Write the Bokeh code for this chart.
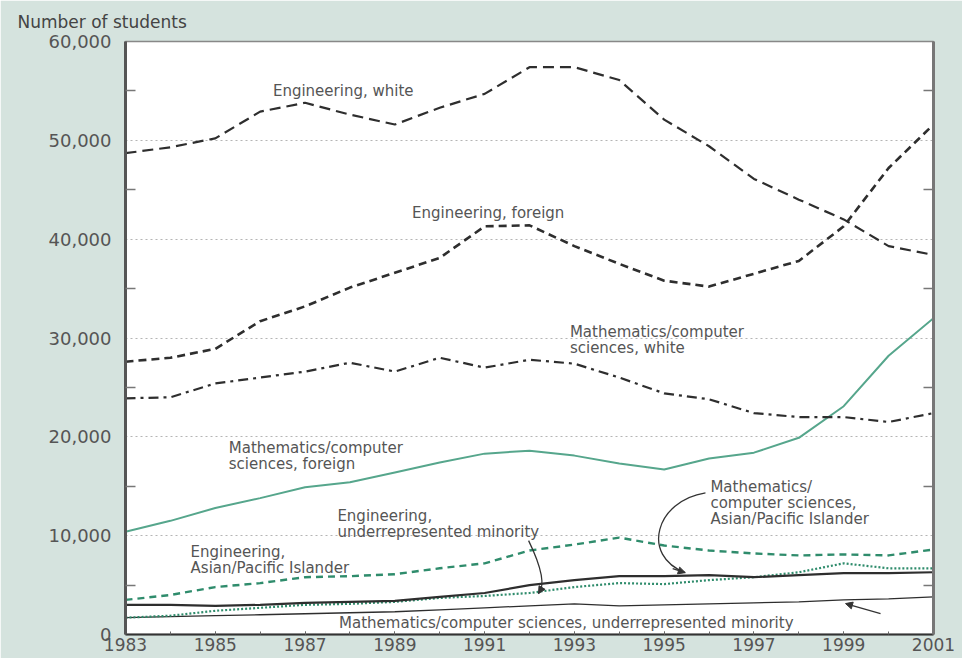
from bokeh.plotting import figure
from bokeh.models import (Range1d, FixedTicker, LinearAxis, NumeralTickFormatter,
                          Label, Arrow, NormalHead, ColumnDataSource)
from bokeh.embed import file_html
from bokeh.resources import INLINE

# Graduate students in science and engineering, by field and citizenship / race
years = [1983, 1984, 1985, 1986, 1987, 1988, 1989, 1990, 1991, 1992,
         1993, 1994, 1995, 1996, 1997, 1998, 1999, 2000, 2001]

eng_white = [48700, 49300, 50200, 52900, 53800, 52600, 51600, 53300, 54700, 57400,
             57400, 56100, 52100, 49400, 46100, 44000, 42000, 39300, 38400]
eng_foreign = [27600, 28000, 28900, 31700, 33200, 35100, 36600, 38100, 41300, 41400,
               39300, 37500, 35800, 35200, 36500, 37800, 41300, 47200, 51600]
mcs_white = [23900, 24000, 25400, 26000, 26600, 27500, 26600, 28000, 27000, 27800,
             27400, 26000, 24400, 23800, 22400, 22000, 22000, 21500, 22400]
mcs_foreign = [10400, 11500, 12800, 13800, 14900, 15400, 16400, 17400, 18300, 18600,
               18100, 17300, 16700, 17800, 18400, 19900, 23100, 28200, 32000]
eng_urm = [3500, 4000, 4800, 5200, 5800, 5900, 6100, 6700, 7200, 8500,
           9100, 9800, 9000, 8500, 8200, 8000, 8100, 8000, 8600]
eng_asian = [3000, 3000, 2900, 3000, 3200, 3300, 3400, 3800, 4200, 5000,
             5500, 5900, 5900, 6000, 5800, 6000, 6200, 6200, 6300]
mcs_asian = [1700, 1900, 2400, 2700, 3000, 3100, 3300, 3700, 3900, 4200,
             4800, 5200, 5100, 5500, 5800, 6300, 7200, 6700, 6700]
mcs_urm = [1700, 1800, 1900, 2000, 2100, 2200, 2300, 2500, 2700, 2900,
           3100, 2900, 3000, 3100, 3200, 3300, 3500, 3600, 3800]

x_ticks = [1983, 1985, 1987, 1989, 1991, 1993, 1995, 1997, 1999, 2001]
y_ticks = [0, 10000, 20000, 30000, 40000, 50000, 60000]
y_minor = [5000, 15000, 25000, 35000, 45000, 55000]

FONT = "DejaVu Sans"
TEXT = "#555555"
BG = "#d5e3de"
GREEN = "#56a68c"
DKGREEN = "#2f8c6c"
INK = "#2e2e2e"

p = figure(width=962, height=658, output_backend="svg", toolbar_location=None,
           x_range=Range1d(1983, 2001), y_range=Range1d(0, 60000),
           min_border_left=125, min_border_right=29, min_border_top=40,
           min_border_bottom=24, title="Number of students")
p.background_fill_color = "white"
p.border_fill_color = BG
p.outline_line_color = "#888888"
p.outline_line_width = 1.5

# units caption above the frame, flush with the left edge of the page
p.title.align = "left"
p.title.offset = -108
p.title.text_font = FONT
p.title.text_font_size = "17px"
p.title.text_font_style = "normal"
p.title.text_color = "#444444"
p.title.standoff = 19

# axes
p.xaxis.ticker = FixedTicker(ticks=x_ticks, minor_ticks=years)
p.xaxis.axis_line_color = "#333333"
p.xaxis.axis_line_width = 2
p.xaxis.major_tick_in = 3
p.xaxis.major_tick_out = 0
p.xaxis.minor_tick_in = 3
p.xaxis.minor_tick_out = 0
p.xaxis.major_tick_line_color = "#666666"
p.xaxis.minor_tick_line_color = "#666666"
p.xaxis.major_label_text_font = FONT
p.xaxis.major_label_text_font_size = "17px"
p.xaxis.major_label_text_color = TEXT
p.xaxis.major_label_standoff = 3

p.yaxis.ticker = FixedTicker(ticks=y_ticks, minor_ticks=y_minor)
p.yaxis.formatter = NumeralTickFormatter(format="0,0")
p.yaxis.axis_line_color = "#555555"
p.yaxis.axis_line_width = 3
p.yaxis.major_tick_in = 0
p.yaxis.major_tick_out = 0
p.yaxis.minor_tick_in = 10
p.yaxis.minor_tick_out = 0
p.yaxis.minor_tick_line_color = "#777777"
p.yaxis.minor_tick_line_width = 1.5
p.yaxis.major_label_text_font = FONT
p.yaxis.major_label_text_font_size = "18px"
p.yaxis.major_label_text_color = TEXT
p.yaxis.major_label_standoff = 14

right = LinearAxis(ticker=FixedTicker(ticks=[], minor_ticks=y_minor))
right.axis_line_color = "#777777"
right.axis_line_width = 3
right.minor_tick_in = 10
right.minor_tick_out = 0
right.minor_tick_line_color = "#777777"
right.minor_tick_line_width = 1.5
p.add_layout(right, "right")

p.xgrid.visible = False
p.ygrid.ticker = FixedTicker(ticks=[10000, 20000, 30000, 40000, 50000])
p.ygrid.grid_line_color = "#b5b5b5"
p.ygrid.grid_line_dash = "2 3"
p.ygrid.grid_line_width = 1

src = ColumnDataSource(dict(year=years, eng_white=eng_white, eng_foreign=eng_foreign,
                            mcs_white=mcs_white, mcs_foreign=mcs_foreign,
                            eng_urm=eng_urm, eng_asian=eng_asian,
                            mcs_asian=mcs_asian, mcs_urm=mcs_urm))

p.line("year", "mcs_urm", source=src, line_color=INK, line_width=1.3)
p.line("year", "mcs_asian", source=src, line_color=DKGREEN, line_width=2.2, line_dash="2 2")
p.line("year", "eng_asian", source=src, line_color=INK, line_width=2.2)
p.line("year", "eng_urm", source=src, line_color=DKGREEN, line_width=2.4, line_dash="7 5")
p.line("year", "mcs_foreign", source=src, line_color=GREEN, line_width=2)
p.line("year", "mcs_white", source=src, line_color=INK, line_width=2.2, line_dash="10 5 3 5")
p.line("year", "eng_foreign", source=src, line_color=INK, line_width=2.6, line_dash="8 5")
p.line("year", "eng_white", source=src, line_color=INK, line_width=2.2, line_dash="11 6")


def note(text, x, y, align="left", size="15px", color=TEXT):
    p.add_layout(Label(x=x, y=y, text=text, text_font=FONT, text_font_size=size,
                       text_color=color, text_align=align, text_baseline="middle"))


note("Engineering, white", 1987.85, 54950, align="center")
note("Engineering, foreign", 1991.08, 42630, align="center")

note("Mathematics/computer", 1992.9, 30600)
note("sciences, white", 1992.9, 28990)

note("Mathematics/computer", 1985.3, 18890)
note("sciences, foreign", 1985.3, 17270)

note("Engineering,", 1987.72, 11970)
note("underrepresented minority", 1987.72, 10350)

note("Engineering,", 1984.45, 8330)
note("Asian/Pacific Islander", 1984.45, 6720)

note("Mathematics/", 1996.03, 14950)
note("computer sciences,", 1996.03, 13330)
note("Asian/Pacific Islander", 1996.03, 11720)

note("Mathematics/computer sciences, underrepresented minority", 1992.82, 1210,
     align="center")

# pointer curves
p.bezier(x0=[1991.98, 1995.92], y0=[9500, 14340],
         x1=[1992.20, 1995.47], y1=[4140, 6260],
         cx0=[1992.25, 1994.81], cy0=[6970, 13540],
         cx1=[1992.36, 1994.47], cy1=[4950, 7980],
         line_color="#333333", line_width=1.3)

head = dict(size=7, fill_color="#333333", line_color="#333333")
p.add_layout(Arrow(end=NormalHead(**head), x_start=1992.28, y_start=4750,
                   x_end=1992.20, y_end=4140, line_color="#333333", line_width=1.3))
p.add_layout(Arrow(end=NormalHead(**head), x_start=1995.19, y_start=6670,
                   x_end=1995.47, y_end=6260, line_color="#333333", line_width=1.3))
p.add_layout(Arrow(end=NormalHead(**head), x_start=1999.82, y_start=2120,
                   x_end=1999.04, y_end=3130, line_color="#333333", line_width=1.3))

open("out.html", "w").write(file_html(p, INLINE))
